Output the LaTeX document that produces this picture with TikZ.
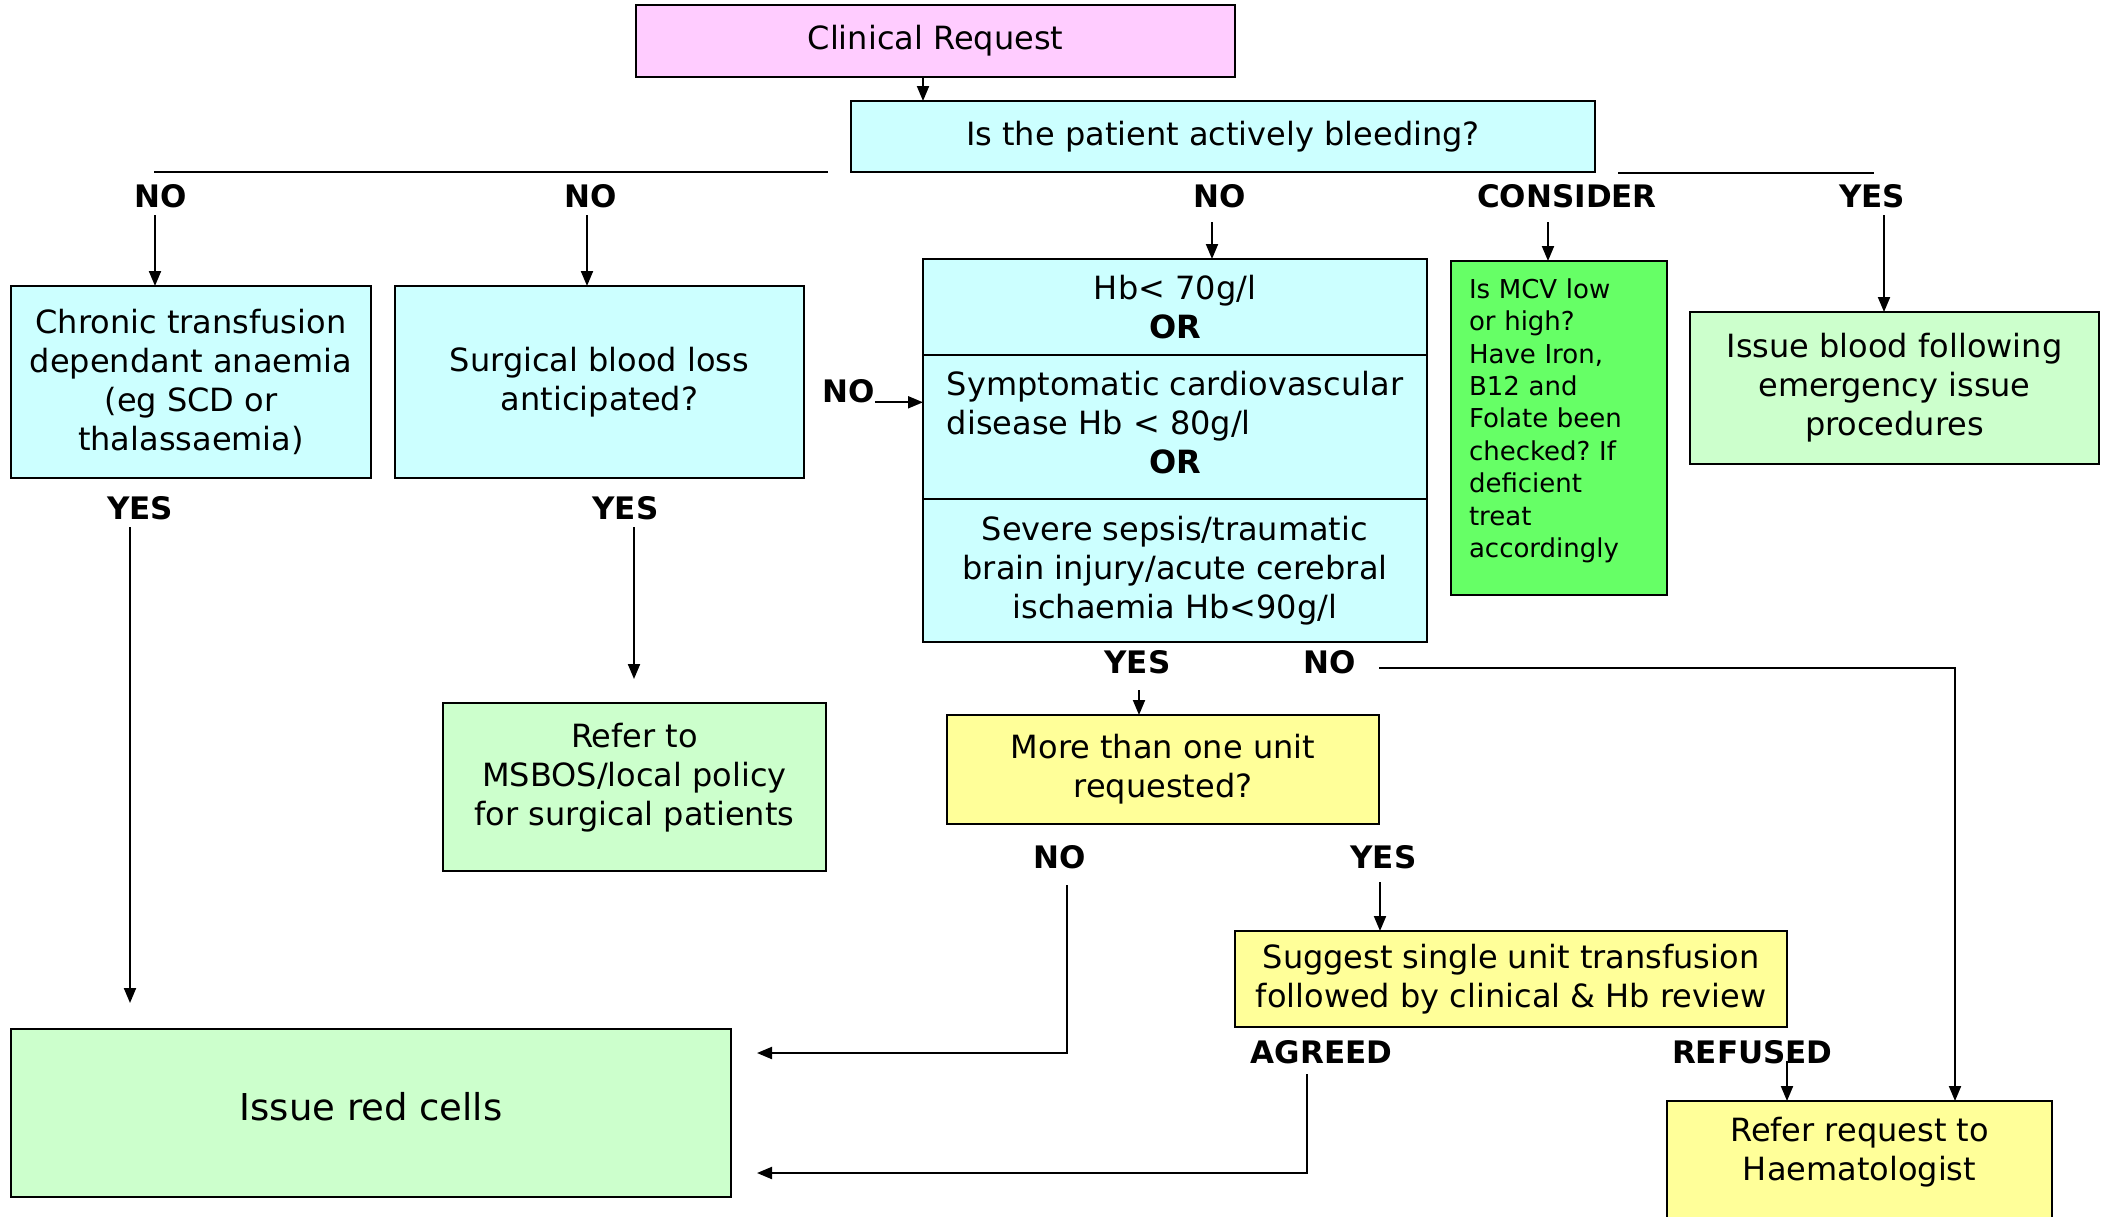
\documentclass[tikz,border=0pt]{standalone}
\usepackage{fontspec}
\setmainfont{DejaVu Sans}
\usetikzlibrary{arrows.meta}
\definecolor{pinkc}{HTML}{FFCCFF}
\definecolor{cyanc}{HTML}{CCFFFF}
\definecolor{lgreen}{HTML}{CCFFCC}
\definecolor{bgreen}{HTML}{66FF66}
\definecolor{yellowc}{HTML}{FFFF99}
\newcommand\mainsz{\fontsize{32}{39}\selectfont}
\newcommand\mcvsz{\fontsize{26}{32.4}\selectfont}
\newcommand\bigsz{\fontsize{37}{44}\selectfont}
\newcommand\lblsz{\fontsize{31}{37}\selectfont}
\frenchspacing
\tikzset{
  box/.style={draw=black, line width=2.5pt, anchor=north west, inner sep=0pt, outer sep=0pt, align=center, font=\mainsz},
  lbl/.style={font=\lblsz\bfseries, inner sep=0pt, outer sep=0pt},
  conn/.style={line width=2pt},
  arr/.style={conn, -{Triangle[length=15pt,width=12pt]}},
}
\begin{document}
\begin{tikzpicture}[x=1pt,y=1pt]
\useasboundingbox (0,0) rectangle (2107,-1216);
\clip (0,0) rectangle (2107,-1216);
\fill[white] (0,0) rectangle (2107,-1216);

% boxes
\node[box, fill=pinkc, minimum width=599pt, minimum height=72pt] (cr) at (636,-5) {Clinical Request};
\node[box, fill=cyanc, minimum width=744pt, minimum height=71pt] (bleed) at (851,-101) {Is the patient actively bleeding?};
\node[box, fill=cyanc, minimum width=360pt, minimum height=192pt] (chronic) at (11,-286) {Chronic transfusion\\dependant anaemia\\(eg SCD or\\thalassaemia)};
\node[box, fill=cyanc, minimum width=409pt, minimum height=192pt] (surg) at (395,-286) {Surgical blood loss\\anticipated?};
\node[box, fill=cyanc, minimum width=504pt, minimum height=96pt] (hb1) at (923,-259) {Hb< 70g/l\\\textbf{OR}};
\node[box, fill=cyanc, minimum width=504pt, minimum height=144pt] (hb2) at (923,-355) {\begin{tabular}{@{}l@{}}Symptomatic cardiovascular\\disease Hb < 80g/l\\\multicolumn{1}{@{}c@{}}{\bfseries OR}\end{tabular}};
\node[box, fill=cyanc, minimum width=504pt, minimum height=143pt] (hb3) at (923,-499) {Severe sepsis/traumatic\\brain injury/acute cerebral\\ischaemia Hb<90g/l};
\node[box, fill=bgreen, minimum height=334pt, align=left, font=\mcvsz, text width=180pt, inner xsep=18pt, text depth=279pt] (mcv) at (1451,-261) {Is MCV low\\or high?\\Have Iron,\\B12 and\\Folate been\\checked? If\\deficient\\treat\\accordingly};
\node[box, fill=lgreen, minimum width=409pt, minimum height=152pt] (issue) at (1690,-312) {Issue blood following\\emergency issue\\procedures};
\node[box, fill=lgreen, minimum width=383pt, minimum height=168pt, text depth=26pt] (msbos) at (443,-703) {Refer to\\MSBOS/local policy\\for surgical patients};
\node[box, fill=yellowc, minimum width=432pt, minimum height=109pt] (more) at (947,-715) {More than one unit\\requested?};
\node[box, fill=yellowc, minimum width=552pt, minimum height=96pt] (sugg) at (1235,-931) {Suggest single unit transfusion\\followed by clinical \& Hb review};
\node[box, fill=yellowc, minimum width=385pt, minimum height=140pt] (refer) at (1667,-1101) {};
\node[font=\mainsz, align=center, inner sep=0pt] (refertxt) at (1859.5,-1152) {Refer request to\\Haematologist};
\node[box, fill=lgreen, minimum width=720pt, minimum height=168pt, font=\bigsz, text depth=14pt] (red) at (11,-1029) {Issue red cells};

% labels
\node[lbl] (lno1) at (160.6,-196) {NO};
\node[lbl] (lno2) at (590.6,-196) {NO};
\node[lbl] (lno3) at (1219.5,-196) {NO};
\node[lbl] (lcons) at (1567,-196) {CONSIDER};
\node[lbl] (lyes0) at (1872,-196) {YES};
\node[lbl] (lno4) at (848.6,-391) {NO};
\node[lbl] (lyes1) at (140,-508) {YES};
\node[lbl] (lyes2) at (625.5,-508) {YES};
\node[lbl] (lyes3) at (1137.5,-662.5) {YES};
\node[lbl] (lno5) at (1329.7,-662.5) {NO};
\node[lbl] (lno6) at (1059.6,-857) {NO};
\node[lbl] (lyes4) at (1383.4,-857) {YES};
\node[lbl] (lagr) at (1321.6,-1052) {AGREED};
\node[lbl] (lref) at (1752.3,-1052) {REFUSED};

% top horizontal lines
\coordinate (hl1) at (154,-172);
\coordinate (hl2) at (828,-172);
\coordinate (hr1) at (1618,-172.5);
\coordinate (hr2) at (1874,-172.5);
\draw[conn] (hl1) -- (hl2);
\draw[conn] (hr1) -- (hr2);

% connectors
\draw[arr] ([xshift=-12.5pt]cr.south) -- ([xshift=-12.5pt]cr.south |- bleed.north);
\draw[arr] ([xshift=-5.6pt,yshift=-19pt]lno1.center) coordinate (a1) -- (a1 |- chronic.north);
\draw[arr] ([xshift=-3.6pt,yshift=-19pt]lno2.center) coordinate (a2) -- (a2 |- surg.north);
\draw[arr] ([xshift=-7.5pt,yshift=-26pt]lno3.center) coordinate (a3) -- (a3 |- hb1.north);
\draw[arr] ([xshift=-19pt,yshift=-26pt]lcons.center) coordinate (a4) -- (a4 |- mcv.north);
\draw[arr] ([xshift=12pt,yshift=-19pt]lyes0.center) coordinate (a5) -- (a5 |- issue.north);
\draw[arr] (lno4.base east) -- (lno4.base east -| hb2.west);
\draw[arr, shorten >=26pt] ([xshift=-10pt,yshift=-19pt]lyes1.center) coordinate (a6) -- (a6 |- red.north);
\draw[arr, shorten >=24pt] ([xshift=8.5pt,yshift=-19pt]lyes2.center) coordinate (a7) -- (a7 |- msbos.north);
\draw[arr] ([xshift=1.5pt,yshift=-27.5pt]lyes3.center) coordinate (a8) -- (a8 |- more.north);
\draw[arr] ([xshift=49.3pt,yshift=-5.5pt]lno5.center) -| ([xshift=95.5pt]refer.north);
\draw[arr, shorten >=26pt] ([xshift=7.4pt,yshift=-28pt]lno6.center) |- ([yshift=60pt]red.east);
\draw[arr] ([xshift=-3.4pt,yshift=-25pt]lyes4.center) coordinate (a9) -- (a9 |- sugg.north);
\draw[arr, shorten >=26pt] ([xshift=-14.6pt,yshift=-22pt]lagr.center) |- ([yshift=-60pt]red.east);
\path ([yshift=-9pt]lref.center) coordinate (rr);
\draw[arr] (rr -| sugg.east) coordinate (r2) -- (r2 |- refer.north);
\end{tikzpicture}
\end{document}
